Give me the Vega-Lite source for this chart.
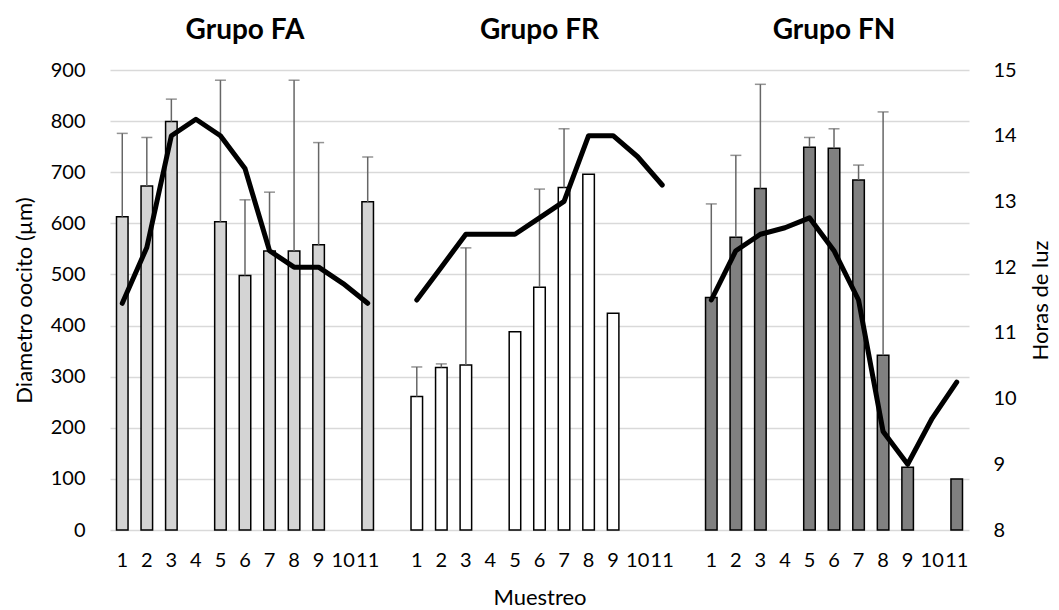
{
  "$schema": "https://vega.github.io/schema/vega-lite/v6.json",
  "width": 859,
  "height": 460,
  "autosize": {"type": "none"},
  "padding": {"left": 110, "top": 70, "right": 90, "bottom": 80},
  "background": "white",
  "config": {
    "font": "Lato",
    "view": {"stroke": null},
    "axis": {
      "labelColor": "#000000",
      "titleColor": "#000000",
      "titleFontWeight": "normal",
      "labelFontSize": 20,
      "titleFontSize": 22,
      "ticks": false,
      "domain": false
    }
  },
  "datasets": {
    "main": [
      {"cat": "FA 1", "grupo": "FA", "diametro": 613, "sup": 776, "horas": 11.45},
      {"cat": "FA 2", "grupo": "FA", "diametro": 673, "sup": 768, "horas": 12.3},
      {"cat": "FA 3", "grupo": "FA", "diametro": 799, "sup": 843, "horas": 14.0},
      {"cat": "FA 4", "grupo": "FA", "diametro": null, "sup": null, "horas": 14.25},
      {"cat": "FA 5", "grupo": "FA", "diametro": 603, "sup": 880, "horas": 14.0},
      {"cat": "FA 6", "grupo": "FA", "diametro": 498, "sup": 646, "horas": 13.5},
      {"cat": "FA 7", "grupo": "FA", "diametro": 546, "sup": 661, "horas": 12.25},
      {"cat": "FA 8", "grupo": "FA", "diametro": 546, "sup": 880, "horas": 12.0},
      {"cat": "FA 9", "grupo": "FA", "diametro": 558, "sup": 758, "horas": 12.0},
      {"cat": "FA 10", "grupo": "FA", "diametro": null, "sup": null, "horas": 11.75},
      {"cat": "FA 11", "grupo": "FA", "diametro": 642, "sup": 730, "horas": 11.45},
      {"cat": "FR 1", "grupo": "FR", "diametro": 261, "sup": 319, "horas": 11.5},
      {"cat": "FR 2", "grupo": "FR", "diametro": 318, "sup": 325, "horas": 12.0},
      {"cat": "FR 3", "grupo": "FR", "diametro": 323, "sup": 552, "horas": 12.5},
      {"cat": "FR 4", "grupo": "FR", "diametro": null, "sup": null, "horas": 12.5},
      {"cat": "FR 5", "grupo": "FR", "diametro": 388, "sup": null, "horas": 12.5},
      {"cat": "FR 6", "grupo": "FR", "diametro": 475, "sup": 667, "horas": 12.75},
      {"cat": "FR 7", "grupo": "FR", "diametro": 670, "sup": 785, "horas": 13.0},
      {"cat": "FR 8", "grupo": "FR", "diametro": 696, "sup": null, "horas": 14.0},
      {"cat": "FR 9", "grupo": "FR", "diametro": 424, "sup": null, "horas": 14.0},
      {"cat": "FR 10", "grupo": "FR", "diametro": null, "sup": null, "horas": 13.68},
      {"cat": "FR 11", "grupo": "FR", "diametro": null, "sup": null, "horas": 13.25},
      {"cat": "FN 1", "grupo": "FN", "diametro": 455, "sup": 638, "horas": 11.5},
      {"cat": "FN 2", "grupo": "FN", "diametro": 573, "sup": 733, "horas": 12.25},
      {"cat": "FN 3", "grupo": "FN", "diametro": 668, "sup": 872, "horas": 12.5},
      {"cat": "FN 4", "grupo": "FN", "diametro": null, "sup": null, "horas": 12.6},
      {"cat": "FN 5", "grupo": "FN", "diametro": 749, "sup": 768, "horas": 12.75},
      {"cat": "FN 6", "grupo": "FN", "diametro": 747, "sup": 785, "horas": 12.25},
      {"cat": "FN 7", "grupo": "FN", "diametro": 685, "sup": 714, "horas": 11.5},
      {"cat": "FN 8", "grupo": "FN", "diametro": 342, "sup": 818, "horas": 9.5},
      {"cat": "FN 9", "grupo": "FN", "diametro": 123, "sup": null, "horas": 9.0},
      {"cat": "FN 10", "grupo": "FN", "diametro": null, "sup": null, "horas": 9.7},
      {"cat": "FN 11", "grupo": "FN", "diametro": 100, "sup": null, "horas": 10.25}
    ],
    "titulos": [
      {"cat": "FA 6", "titulo": "Grupo FA"},
      {"cat": "FR 6", "titulo": "Grupo FR"},
      {"cat": "FN 6", "titulo": "Grupo FN"}
    ]
  },
  "encoding": {
    "x": {
      "field": "cat",
      "type": "nominal",
      "sort": null,
      "scale": {
        "domain": ["FA 1","FA 2","FA 3","FA 4","FA 5","FA 6","FA 7","FA 8","FA 9","FA 10","FA 11","g1",
                   "FR 1","FR 2","FR 3","FR 4","FR 5","FR 6","FR 7","FR 8","FR 9","FR 10","FR 11","g2",
                   "FN 1","FN 2","FN 3","FN 4","FN 5","FN 6","FN 7","FN 8","FN 9","FN 10","FN 11"],
        "paddingInner": 0,
        "paddingOuter": 0
      },
      "axis": {
        "title": "Muestreo",
        "labelAngle": 0,
        "labelPadding": 20,
        "titlePadding": 17,
        "labelExpr": "indexof(datum.value, ' ') > 0 ? split(datum.value, ' ')[1] : ''"
      }
    }
  },
  "layer": [
    {
      "encoding": {
        "y": {
          "type": "quantitative",
          "scale": {"domain": [0, 900], "nice": false, "zero": true},
          "axis": {
            "title": "Diametro oocito (µm)",
            "values": [0, 100, 200, 300, 400, 500, 600, 700, 800, 900],
            "grid": true,
            "gridColor": "#d9d9d9",
            "gridWidth": 1.3,
            "labelPadding": 25,
            "titlePadding": 14
          }
        }
      },
      "layer": [
        {
          "data": {"name": "main"},
          "mark": {"type": "bar", "stroke": "#000000", "strokeWidth": 1.5, "width": {"band": 0.47}},
          "encoding": {
            "x": {"field": "cat", "type": "nominal", "sort": null},
            "y": {"field": "diametro", "type": "quantitative"},
            "color": {
              "field": "grupo",
              "type": "nominal",
              "scale": {"domain": ["FA", "FR", "FN"], "range": ["#d4d4d4", "#ffffff", "#808080"]},
              "legend": null
            }
          }
        },
        {
          "data": {"name": "main"},
          "mark": {"type": "rule", "color": "#666666", "strokeWidth": 1.5},
          "encoding": {
            "x": {"field": "cat", "type": "nominal", "sort": null, "bandPosition": 0.5},
            "y": {"field": "diametro", "type": "quantitative"},
            "y2": {"field": "sup"}
          }
        },
        {
          "data": {"name": "main"},
          "mark": {"type": "tick", "color": "#666666", "thickness": 1.5, "size": 11},
          "encoding": {
            "x": {"field": "cat", "type": "nominal", "sort": null, "bandPosition": 0.5},
            "y": {"field": "sup", "type": "quantitative"}
          }
        },
        {
          "data": {"name": "titulos"},
          "mark": {"type": "text", "fontSize": 28, "fontWeight": "bold", "color": "#000000", "baseline": "middle", "align": "center"},
          "encoding": {
            "x": {"field": "cat", "type": "nominal", "sort": null, "bandPosition": 0.5},
            "y": {"datum": 976, "type": "quantitative"},
            "text": {"field": "titulo"}
          }
        }
      ]
    },
    {
      "data": {"name": "main"},
      "mark": {"type": "line", "color": "#000000", "strokeWidth": 5, "strokeCap": "round", "strokeJoin": "round"},
      "encoding": {
        "x": {"field": "cat", "type": "nominal", "sort": null, "bandPosition": 0.5},
        "y": {
          "field": "horas",
          "type": "quantitative",
          "scale": {"domain": [8, 15], "nice": false, "zero": false},
          "axis": {
            "orient": "right",
            "title": "Horas de luz",
            "titleAngle": 270,
            "titleBaseline": "top",
            "values": [8, 9, 10, 11, 12, 13, 14, 15],
            "grid": false,
            "labelPadding": 24,
            "titlePadding": 14
          }
        },
        "detail": {"field": "grupo"}
      }
    }
  ],
  "resolve": {"scale": {"y": "independent"}}
}
